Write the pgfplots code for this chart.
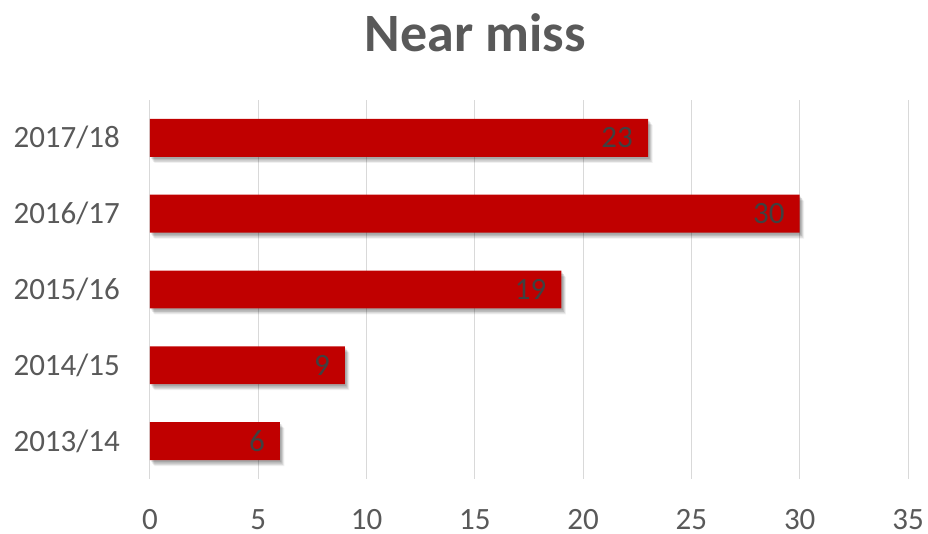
\documentclass[border=0pt]{standalone}
\usepackage{pgfplots}
\pgfplotsset{compat=1.18}
\usepackage{fontspec}
\setmainfont{Carlito}

\definecolor{barred}{HTML}{C00000}
\definecolor{txtgray}{HTML}{595959}
\definecolor{lblgray}{HTML}{404040}
\definecolor{gridgray}{HTML}{D9D9D9}

% soft drop shadow built from a few stacked translucent copies
\tikzset{
  softshadow/.style={
    preaction={fill=black, opacity=0.12, transform canvas={xshift=1.5pt,yshift=-2pt}},
    preaction={fill=black, opacity=0.12, transform canvas={xshift=2.5pt,yshift=-3.5pt}},
    preaction={fill=black, opacity=0.10, transform canvas={xshift=3.5pt,yshift=-5pt}},
    preaction={fill=black, opacity=0.06, transform canvas={xshift=4.5pt,yshift=-6pt}},
  }
}

\begin{document}
\begin{tikzpicture}
\useasboundingbox (-150pt,-55pt) rectangle (778pt,479pt);
\begin{axis}[
  scale only axis,
  width=758pt, height=379pt,
  xbar, bar width=0.5,
  xmin=0, xmax=35,
  ymin=-0.5, ymax=4.5,
  xtick={0,5,...,35},
  ytick={0,1,2,3,4},
  yticklabels={2013/14,2014/15,2015/16,2016/17,2017/18},
  axis line style={draw=none},
  major tick length=0pt,
  xmajorgrids, ymajorgrids=false,
  major grid style={gridgray, line width=1pt},
  /pgf/number format/assume math mode=true,
  tick label style={font=\fontsize{31}{36}\selectfont, text=txtgray, inner sep=0pt},
  xticklabel style={anchor=north, yshift=-30pt},
  yticklabel style={anchor=east, xshift=-30pt},
  title={Near miss},
  title style={at={(rel axis cs:0.429,1)}, anchor=base, yshift=42pt,
    inner sep=0pt, font=\fontsize{54}{60}\selectfont\bfseries, text=txtgray},
  nodes near coords,
  every node near coord/.append style={anchor=east, xshift=-15pt, inner sep=0pt,
    font=\fontsize{31}{36}\selectfont, text=lblgray},
]
\addplot[fill=barred, draw=none, softshadow]
  coordinates {(6,0) (9,1) (19,2) (30,3) (23,4)};
\end{axis}
\end{tikzpicture}
\end{document}
